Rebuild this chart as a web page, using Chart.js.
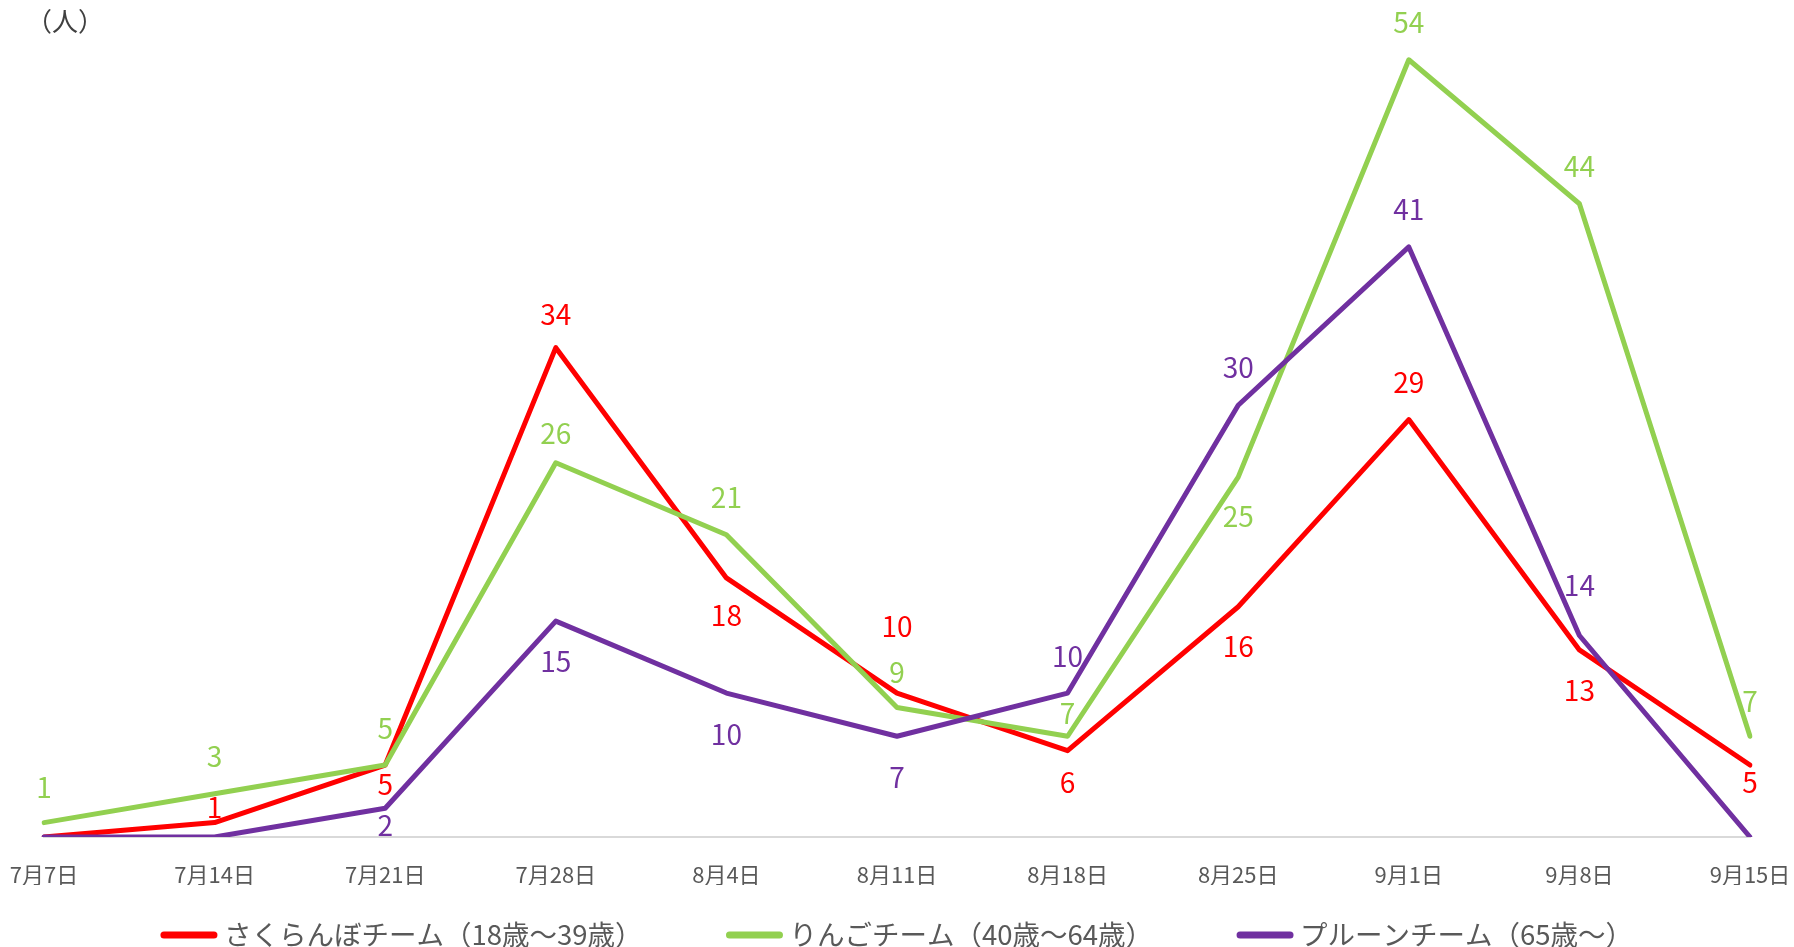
<!DOCTYPE html>
<html lang="ja">
<head>
<meta charset="utf-8">
<title>チーム別人数</title>
<script src="https://cdn.jsdelivr.net/npm/chart.js@4/dist/chart.umd.min.js"></script>
<style>
  html, body { margin: 0; padding: 0; background: #fff; overflow: hidden; }
  #wrap { width: 1794px; height: 947px; }
</style>
</head>
<body>
<div id="wrap"><canvas id="teamChart" width="1794" height="947"></canvas></div>
<script>
// 日付ラベル
const dates = ['7月7日', '7月14日', '7月21日', '7月28日', '8月4日', '8月11日', '8月18日', '8月25日', '9月1日', '9月8日', '9月15日'];

// チームごとの人数
const sakuranbo = [0, 1, 5, 34, 18, 10, 6, 16, 29, 13, 5];
const ringo = [1, 3, 5, 26, 21, 9, 7, 25, 54, 44, 7];
const prune = [0, 0, 2, 15, 10, 7, 10, 30, 41, 14, 0];

const seriesNames = ['さくらんぼチーム（18歳～39歳）', 'りんごチーム（40歳～64歳）', 'プルーンチーム（65歳～）'];
const unitLabel = '（人）';

// データラベルのずらし量 (px, マイナスは上) ／ null はラベルなし
const sakuranboShift = [null, -15, 19, -33, 37, -67, 32, 40, -37, 40, 17];
const ringoShift = [-35, -37, -37, -29, -37, -35, -23, 39, -37, -37, -35];
const pruneShift = [null, null, 17, 40, 41, 41, -37, -38, -38, -50, null];

const FONT = '"Noto Sans CJK JP", "Noto Sans", sans-serif';

// データラベル・凡例・単位を描く
const decorPlugin = {
    id: 'decor',
    afterDatasetsDraw(chart) {
        const ctx = chart.ctx;
        ctx.save();
        ctx.textAlign = 'center';
        ctx.textBaseline = 'middle';
        ctx.font = '28px ' + FONT;
        chart.data.datasets.forEach((ds, i) => {
            const meta = chart.getDatasetMeta(i);
            ctx.fillStyle = ds.borderColor;
            meta.data.forEach((pt, j) => {
                const shift = ds.labelShift[j];
                if (shift === null) return;
                ctx.fillText(String(ds.data[j]), pt.x, pt.y + shift);
            });
        });
        ctx.restore();
    },
    afterDraw(chart) {
        const ctx = chart.ctx;
        ctx.save();
        // 単位
        ctx.font = '26px ' + FONT;
        ctx.fillStyle = '#404040';
        ctx.textAlign = 'left';
        ctx.textBaseline = 'middle';
        ctx.fillText(unitLabel, 26, 21);

        // 凡例
        const lineW = 56, gap = 7, itemGap = 84, y = 935;
        ctx.font = '27.5px ' + FONT;
        const widths = chart.data.datasets.map(ds => ctx.measureText(ds.label).width);
        let total = 0;
        widths.forEach(w => { total += lineW + gap + w; });
        total += itemGap * (widths.length - 1);
        let x = (chart.width - total) / 2;
        chart.data.datasets.forEach((ds, i) => {
            ctx.strokeStyle = ds.borderColor;
            ctx.lineWidth = 7;
            ctx.lineCap = 'round';
            ctx.beginPath();
            ctx.moveTo(x + 3, y);
            ctx.lineTo(x + lineW - 3, y);
            ctx.stroke();
            ctx.fillStyle = '#595959';
            ctx.fillText(ds.label, x + lineW + gap, y);
            x += lineW + gap + widths[i] + itemGap;
        });
        ctx.restore();
    }
};

const lineStyle = {
    borderWidth: 5,
    pointRadius: 0,
    pointHoverRadius: 0,
    tension: 0,
    fill: false,
    borderCapStyle: 'round',
    borderJoinStyle: 'round'
};

const teamChart = new Chart(document.getElementById('teamChart').getContext('2d'), {
    type: 'line',
    data: {
        labels: dates,
        datasets: [
            Object.assign({ label: seriesNames[0], data: sakuranbo, borderColor: '#FF0000', labelShift: sakuranboShift, order: 2 }, lineStyle),
            Object.assign({ label: seriesNames[1], data: ringo, borderColor: '#92D050', labelShift: ringoShift, order: 1 }, lineStyle),
            Object.assign({ label: seriesNames[2], data: prune, borderColor: '#7030A0', labelShift: pruneShift, order: 0 }, lineStyle)
        ]
    },
    options: {
        responsive: false,
        animation: false,
        devicePixelRatio: 1,
        layout: {
            padding: { left: 44, right: 44, top: 31, bottom: 62 }
        },
        plugins: {
            legend: { display: false },
            tooltip: { enabled: false }
        },
        scales: {
            x: {
                offset: false,
                grid: { display: false, drawTicks: false },
                border: { display: true, color: '#D9D9D9', width: 2 },
                ticks: {
                    color: '#595959',
                    padding: 24,
                    maxRotation: 0,
                    autoSkip: false,
                    font: { size: 22, family: FONT }
                },
                afterFit(scale) {
                    // 軸の高さと余白を固定
                    scale.height = 48;
                    scale.paddingLeft = 0;
                    scale.paddingRight = 0;
                    scale.paddingTop = 0;
                    scale.paddingBottom = 0;
                }
            },
            y: {
                display: false,
                min: 0,
                max: 56
            }
        }
    },
    plugins: [decorPlugin]
});
</script>
</body>
</html>
